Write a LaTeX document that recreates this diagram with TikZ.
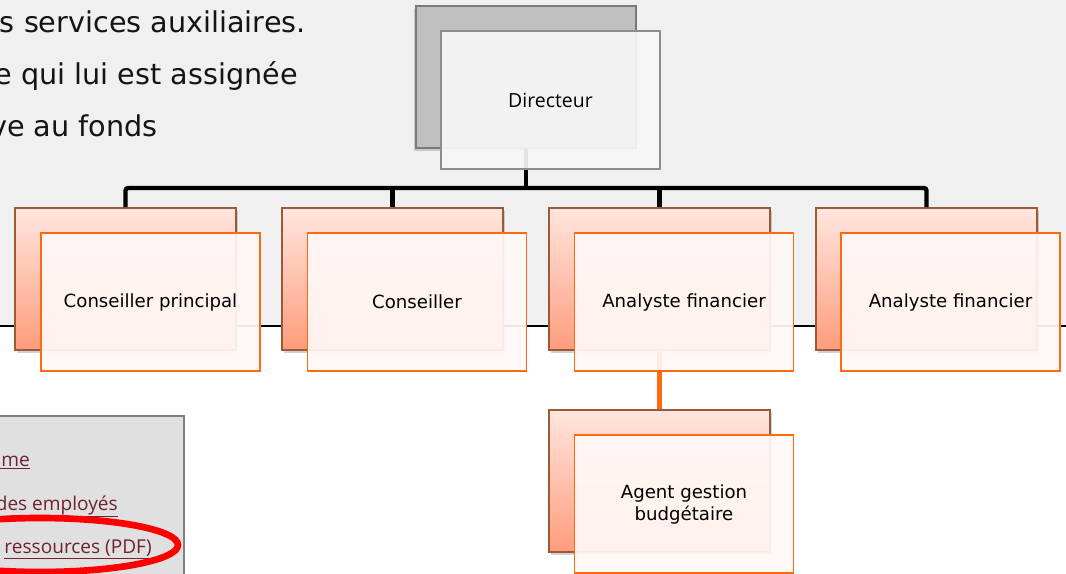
\documentclass[tikz,border=0pt]{standalone}
\usepackage{fontspec}
\setmainfont{DejaVu Sans}
\newfontfamily\linkfont{Open Sans}
\newfontfamily\dirfont{Open Sans}
\usetikzlibrary{shadows}
\definecolor{bggray}{HTML}{F0F0F0}
\definecolor{boxgray}{HTML}{C0C0C0}
\definecolor{boxgrayline}{HTML}{7A7A7A}
\definecolor{frontgrayline}{HTML}{8C8C8C}
\definecolor{peachtop}{HTML}{FFE6DE}
\definecolor{peachbot}{HTML}{FF9C7C}
\definecolor{brownline}{HTML}{9A5A38}
\definecolor{orangeline}{HTML}{FF6A10}
\definecolor{frontfill}{HTML}{FFF8F6}
\definecolor{linkcol}{HTML}{6E2234}
\definecolor{panelgray}{HTML}{E0E0E0}
\tikzset{
  backbox/.style={draw=brownline, line width=1.2pt, top color=peachtop, bottom color=peachbot,
    minimum width=165.75pt, minimum height=106.5pt, inner sep=0pt,
    drop shadow={shadow xshift=1.5pt, shadow yshift=-2pt, opacity=0.35}},
  frontbox/.style={draw=orangeline, line width=1.1pt, fill=frontfill, fill opacity=0.93, text opacity=1,
    minimum width=164.25pt, minimum height=103.5pt, inner sep=0pt, align=center,
    font=\fontsize{13.6pt}{16.5pt}\selectfont},
  dirback/.style={draw=boxgrayline, line width=1.2pt, fill=boxgray,
    minimum width=165pt, minimum height=106.5pt, inner sep=0pt,
    drop shadow={shadow xshift=-1.5pt, shadow yshift=-2pt, opacity=0.35}},
  dirfront/.style={draw=frontgrayline, line width=1.1pt, fill=white!97!black, fill opacity=0.92, text opacity=1,
    minimum width=164.25pt, minimum height=103.5pt, inner sep=0pt,
    font=\dirfont\fontsize{14.6pt}{17pt}\selectfont},
  bus/.style={line width=3.3pt, black, rounded corners=2pt},
  subline/.style={line width=3.3pt, orangeline},
  bgtext/.style={font=\fontsize{21.5pt}{25pt}\selectfont, text=black!92, inner sep=0pt},
  linktext/.style={font=\linkfont\fontsize{14.3pt}{17pt}\selectfont, text=linkcol, inner sep=0pt}
}
\begin{document}
\begin{tikzpicture}[x=0.75pt,y=-0.75pt]
\useasboundingbox (0,0) rectangle (1066,574);
\clip (0,0) rectangle (1066,574);
% background
\fill[bggray] (0,0) rectangle (1066,326);
\fill[white] (0,326) rectangle (1066,574);
\draw[line width=1.1pt, black] (0,326) -- (1066,326);
% page text
\node[bgtext, anchor=base east] (t1) at (306,33) {s services auxiliaires.};
\node[bgtext, anchor=base east] (t2) at (298,85) {e qui lui est assignée};
\node[bgtext, anchor=base east] (t3) at (158,137) {ve au fonds};
% side panel
\fill[panelgray] (-10,416) rectangle (184,580);
\draw[line width=1.1pt, black!50] (-10,416) -- (184,416) -- (184,580);
\node[linktext, anchor=base east] (l1) at (30,466) {\underline{ame}};
\node[linktext, anchor=base east] (l2) at (118,510) {\underline{des employés}};
\node[linktext, anchor=base east] (l3) at (152,553) {\underline{ressources (PDF)}};
\draw[red, line width=5pt] (40,545) ellipse [x radius=138, y radius=27];
% boxes (back)
\node[dirback] (dirB) at (526,77) {};
\node[backbox] (c1B) at (125.5,279) {};
\node[backbox] (c2B) at (392.5,279) {};
\node[backbox] (c3B) at (659.5,279) {};
\node[backbox] (c4B) at (926.5,279) {};
% connectors
\coordinate (busy) at (0,188);
\draw[bus] (dirB.south) -- (dirB.south |- busy);
\draw[bus] (c1B.north) -- (c1B.north |- busy) -- (c4B.north |- busy) -- (c4B.north);
\draw[bus] (c2B.north |- busy) -- (c2B.north);
\draw[bus] (c3B.north |- busy) -- (c3B.north);
\node[backbox] (agB) at (659.5,481) {};
\draw[subline] (c3B.south) -- (agB.north);
% front boxes
\node[dirfront] (dirF) at (550.5,100) {Directeur};
\node[frontbox] (c1F) at (150.5,302) {Conseiller principal};
\node[frontbox] (c2F) at (417,302) {Conseiller};
\node[frontbox] (c3F) at (684,302) {Analyste financier};
\node[frontbox] (c4F) at (950.5,302) {Analyste financier};
\node[frontbox] (agF) at (684,504) {Agent gestion\\budgétaire};
\end{tikzpicture}
\end{document}
